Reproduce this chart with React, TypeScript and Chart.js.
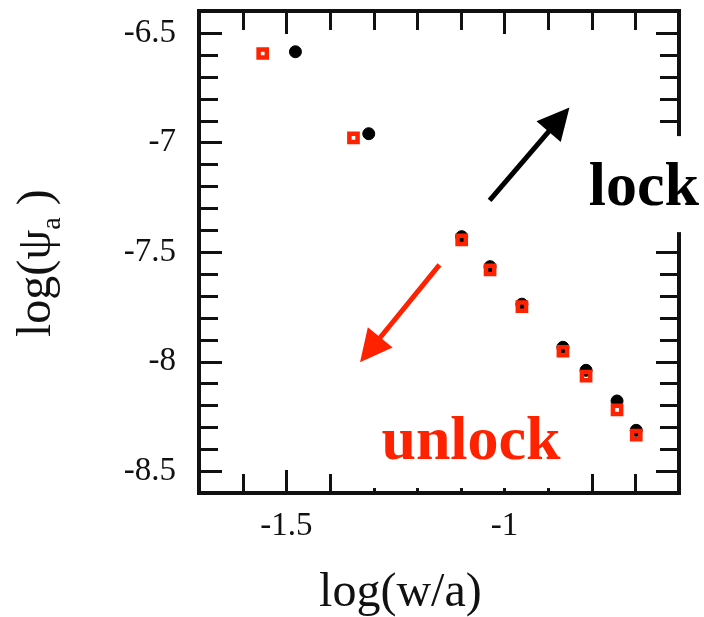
import React, { useEffect, useRef } from 'react';
import { Chart, registerables } from 'chart.js';

Chart.register(...registerables);

// ---- data ----
const lockX = [-1.479, -1.311, -1.098, -1.033, -0.960, -0.866, -0.813, -0.742, -0.698];
const lockY = [-6.586, -6.960, -7.430, -7.567, -7.738, -7.935, -8.040, -8.180, -8.314];
const unlockX = [-1.554, -1.346, -1.098, -1.033, -0.960, -0.866, -0.813, -0.742, -0.698];
const unlockY = [-6.594, -6.979, -7.445, -7.582, -7.749, -7.953, -8.067, -8.221, -8.336];

const xTickValues = [-1.5, -1];
const xTickLabels = ['-1.5', '-1'];
const yTickValues = [-8.5, -8, -7.5, -7, -6.5];
const yTickLabels = ['-8.5', '-8', '-7.5', '-7', '-6.5'];
const xMinorTicks = [-1.6, -1.5, -1.4, -1.3, -1.2, -1.1, -1.0, -0.9, -0.8, -0.7];
const yMinorTicks = [-8.5, -8.4, -8.3, -8.2, -8.1, -8.0, -7.9, -7.8, -7.7, -7.6, -7.5, -7.4, -7.3, -7.2, -7.1, -7.0, -6.9, -6.8, -6.7, -6.6, -6.5];

const xTitle = 'log(w/a)';
const lockLabel = 'lock';
const unlockLabel = 'unlock';

const SERIF = '"Liberation Serif", "Times New Roman", Times, serif';
const RED = '#ff2200';
const INK = '#111111';

function labelFor(values: number[], labels: string[], v: number) {
  const i = values.findIndex((t) => Math.abs(t - v) < 1e-9);
  return i >= 0 ? labels[i] : '';
}

function drawArrow(ctx: CanvasRenderingContext2D, x0: number, y0: number, x1: number, y1: number, color: string) {
  const dx = x1 - x0, dy = y1 - y0;
  const len = Math.hypot(dx, dy);
  const ux = dx / len, uy = dy / len;
  const headLen = 32, halfW = 16;
  const bx = x1 - ux * headLen, by = y1 - uy * headLen;
  ctx.save();
  ctx.strokeStyle = color;
  ctx.fillStyle = color;
  ctx.lineWidth = 5;
  ctx.lineCap = 'butt';
  ctx.beginPath();
  ctx.moveTo(x0, y0);
  ctx.lineTo(bx + ux * 2, by + uy * 2);
  ctx.stroke();
  ctx.beginPath();
  ctx.moveTo(x1, y1);
  ctx.lineTo(bx - uy * halfW, by + ux * halfW);
  ctx.lineTo(bx + uy * halfW, by - ux * halfW);
  ctx.closePath();
  ctx.fill();
  ctx.restore();
}

const decorPlugin = {
  id: 'decor',
  afterDraw(chart: any) {
    const { ctx, chartArea: a, scales } = chart;
    const xs = scales.x, ys = scales.y;
    ctx.save();
    // inward tick marks on all four sides
    ctx.strokeStyle = INK;
    ctx.lineWidth = 3;
    ctx.lineCap = 'butt';
    ctx.beginPath();
    for (const v of xMinorTicks) {
      const major = xTickValues.some((t) => Math.abs(t - v) < 1e-9);
      const len = major ? 23 : 19;
      const px = Math.round(xs.getPixelForValue(v)) + 0.5;
      ctx.moveTo(px, a.top);
      ctx.lineTo(px, a.top + len);
      ctx.moveTo(px, a.bottom);
      ctx.lineTo(px, a.bottom - len);
    }
    for (const v of yMinorTicks) {
      const major = yTickValues.some((t) => Math.abs(t - v) < 1e-9);
      const len = major ? 23 : 19;
      const py = Math.round(ys.getPixelForValue(v)) + 0.5;
      ctx.moveTo(a.left, py);
      ctx.lineTo(a.left + len, py);
      ctx.moveTo(a.right, py);
      ctx.lineTo(a.right - len, py);
    }
    ctx.stroke();
    // frame
    ctx.lineWidth = 4;
    ctx.strokeRect(a.left, a.top, a.right - a.left, a.bottom - a.top);

    // annotations
    ctx.font = `bold 62px ${SERIF}`;
    ctx.textBaseline = 'alphabetic';
    ctx.textAlign = 'left';

    const lx = xs.getPixelForValue(-0.807), ly = ys.getPixelForValue(-7.286);
    const ux = xs.getPixelForValue(-1.282), uy = ys.getPixelForValue(-8.445);
    const uw = ctx.measureText(unlockLabel).width;

    ctx.fillStyle = '#ffffff';
    ctx.fillRect(lx - 9, ly - 69, chart.width - (lx - 9), 96);
    ctx.fillRect(ux - 22, uy - 58, uw + 45, 87);

    ctx.fillStyle = '#000000';
    ctx.fillText(lockLabel, lx, ly);
    ctx.fillStyle = RED;
    ctx.fillText(unlockLabel, ux, uy);

    drawArrow(ctx, xs.getPixelForValue(-1.034), ys.getPixelForValue(-7.264), xs.getPixelForValue(-0.851), ys.getPixelForValue(-6.840), '#000000');
    drawArrow(ctx, xs.getPixelForValue(-1.149), ys.getPixelForValue(-7.559), xs.getPixelForValue(-1.331), ys.getPixelForValue(-8.003), RED);

    // x axis title
    ctx.fillStyle = INK;
    ctx.font = `48px ${SERIF}`;
    ctx.textAlign = 'center';
    ctx.fillText(xTitle, (xs.getPixelForValue(-1.5) + xs.getPixelForValue(-1)) / 2 + 5, 606);

    // y axis title: log(ψ_a )
    ctx.save();
    ctx.translate(50, 337);
    ctx.rotate(-Math.PI / 2);
    ctx.textAlign = 'left';
    ctx.font = `48px ${SERIF}`;
    const p1 = 'log(\u03C8';
    ctx.fillText(p1, 0, 0);
    let cx = ctx.measureText(p1).width;
    ctx.font = `28px ${SERIF}`;
    ctx.fillText('a', cx, 10);
    cx += ctx.measureText('a').width;
    ctx.font = `48px ${SERIF}`;
    ctx.fillText(' )', cx, 0);
    ctx.restore();

    ctx.restore();
  },
};

export default function App() {
  const ref = useRef<HTMLCanvasElement | null>(null);

  useEffect(() => {
    if (!ref.current) return;
    const tickFont = { family: SERIF, size: 33, lineHeight: 1.2 };
    const chart = new Chart(ref.current, {
      type: 'scatter',
      data: {
        datasets: [
          {
            label: 'unlock',
            data: unlockX.map((x, i) => ({ x, y: unlockY[i] })),
            pointStyle: 'rect',
            pointRadius: 5.8,
            pointBorderWidth: 4.5,
            borderColor: RED,
            backgroundColor: 'rgba(0,0,0,0)',
            pointHoverRadius: 5.8,
          },
          {
            label: 'lock',
            data: lockX.map((x, i) => ({ x, y: lockY[i] })),
            pointStyle: 'circle',
            pointRadius: 6,
            pointBorderWidth: 1,
            borderColor: '#000000',
            backgroundColor: '#000000',
            pointHoverRadius: 6,
          },
        ],
      },
      options: {
        responsive: false,
        animation: false,
        devicePixelRatio: 1,
        events: [],
        layout: { padding: { left: 0, right: 25, top: 11, bottom: 0 } },
        plugins: { legend: { display: false }, tooltip: { enabled: false } },
        scales: {
          x: {
            type: 'linear',
            position: 'bottom',
            min: -1.7,
            max: -0.6,
            grid: { display: false, drawTicks: false },
            border: { display: false },
            afterBuildTicks: (s: any) => {
              s.ticks = xTickValues.map((value) => ({ value }));
            },
            afterFit: (s: any) => {
              s.height = 124;
              s.paddingLeft = 0;
              s.paddingRight = 0;
            },
            ticks: {
              padding: 14,
              font: tickFont,
              color: INK,
              maxRotation: 0,
              autoSkip: false,
              callback: (v: any) => labelFor(xTickValues, xTickLabels, Number(v)),
            },
          },
          y: {
            type: 'linear',
            position: 'left',
            min: -8.6,
            max: -6.4,
            grid: { display: false, drawTicks: false },
            border: { display: false },
            afterBuildTicks: (s: any) => {
              s.ticks = yTickValues.map((value) => ({ value }));
            },
            afterFit: (s: any) => {
              s.width = 199;
              s.paddingTop = 0;
              s.paddingBottom = 0;
            },
            ticks: {
              padding: 23,
              font: tickFont,
              color: INK,
              autoSkip: false,
              callback: (v: any) => labelFor(yTickValues, yTickLabels, Number(v)),
            },
          },
        },
      },
      plugins: [decorPlugin],
    } as any);
    return () => chart.destroy();
  }, []);

  return (
    <div style={{ position: 'absolute', left: 0, top: 0, width: 704, height: 617, background: '#fff' }}>
      <canvas ref={ref} width={704} height={617} style={{ display: 'block', width: 704, height: 617 }} />
    </div>
  );
}
